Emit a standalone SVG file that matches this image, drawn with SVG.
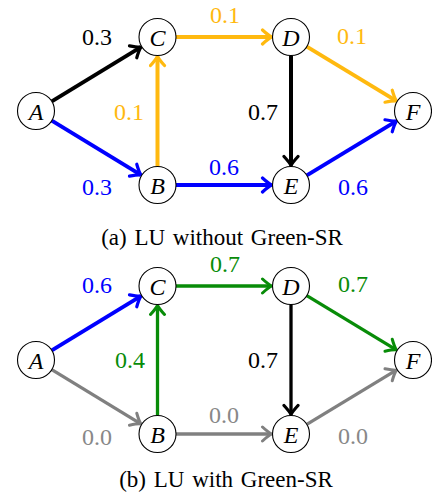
<svg xmlns="http://www.w3.org/2000/svg" width="432" height="493" viewBox="0 0 432 493">
<style>
text{font-family:'Liberation Serif','Times New Roman',serif}
.node circle{fill:#fff;stroke:#000;stroke-width:1.1}
.node text{font-style:italic;font-size:24px;text-anchor:middle}
.lbl{font-size:24px;text-anchor:middle}
.cap{font-size:23px;text-anchor:middle;word-spacing:2px}
.e{fill:none;stroke-linecap:butt}
.t{stroke-width:4}
.b{stroke-width:3.3}
.k{stroke:#000}.o{stroke:#FFB90F}.u{stroke:#0000FF}.g{stroke:#088C08}.y{stroke:#808080}
</style>
<defs>
<marker id="mk" viewBox="-12 -9 16 18" markerWidth="16" markerHeight="18" refX="0" refY="0" orient="auto" markerUnits="userSpaceOnUse"><path d="M-9,-7 Q-3,-1.5 0,0 Q-3,1.5 -9,7" fill="none" stroke="#000" stroke-width="3.2" stroke-linecap="round" stroke-linejoin="round"/></marker>
<marker id="mo" viewBox="-12 -9 16 18" markerWidth="16" markerHeight="18" refX="0" refY="0" orient="auto" markerUnits="userSpaceOnUse"><path d="M-9,-7 Q-3,-1.5 0,0 Q-3,1.5 -9,7" fill="none" stroke="#FFB90F" stroke-width="3.2" stroke-linecap="round" stroke-linejoin="round"/></marker>
<marker id="mu" viewBox="-12 -9 16 18" markerWidth="16" markerHeight="18" refX="0" refY="0" orient="auto" markerUnits="userSpaceOnUse"><path d="M-9,-7 Q-3,-1.5 0,0 Q-3,1.5 -9,7" fill="none" stroke="#0000FF" stroke-width="3.2" stroke-linecap="round" stroke-linejoin="round"/></marker>
<marker id="mg" viewBox="-12 -9 16 18" markerWidth="16" markerHeight="18" refX="0" refY="0" orient="auto" markerUnits="userSpaceOnUse"><path d="M-9,-7 Q-3,-1.5 0,0 Q-3,1.5 -9,7" fill="none" stroke="#088C08" stroke-width="3" stroke-linecap="round" stroke-linejoin="round"/></marker>
<marker id="my" viewBox="-12 -9 16 18" markerWidth="16" markerHeight="18" refX="0" refY="0" orient="auto" markerUnits="userSpaceOnUse"><path d="M-9,-7 Q-3,-1.5 0,0 Q-3,1.5 -9,7" fill="none" stroke="#808080" stroke-width="3" stroke-linecap="round" stroke-linejoin="round"/></marker>
</defs>
<g id="connectors">
<path class="e t k" d="M51.8,101.4 L140.8,47.1" marker-end="url(#mk)"/>
<path class="e t u" d="M51.8,120.6 L140.8,174.9" marker-end="url(#mu)"/>
<path class="e t o" d="M157.5,166.5 L157.5,56.5" marker-end="url(#mo)"/>
<path class="e t o" d="M176,37 L271.5,37" marker-end="url(#mo)"/>
<path class="e t u" d="M176,185 L271.5,185" marker-end="url(#mu)"/>
<path class="e t k" d="M291,55.5 L291,165.5" marker-end="url(#mk)"/>
<path class="e t o" d="M306.8,46.6 L396.3,100.9" marker-end="url(#mo)"/>
<path class="e t u" d="M306.8,175.4 L396.3,121.1" marker-end="url(#mu)"/>
<path class="e t u" d="M51.8,350.4 L140.8,296.1" marker-end="url(#mu)"/>
<path class="e b y" d="M51.8,369.6 L140.8,423.9" marker-end="url(#my)"/>
<path class="e b g" d="M157.5,415.5 L157.5,305.5" marker-end="url(#mg)"/>
<path class="e b g" d="M176,286 L271.5,286" marker-end="url(#mg)"/>
<path class="e b y" d="M176,434 L271.5,434" marker-end="url(#my)"/>
<path class="e b k" d="M291,304.5 L291,414.5" marker-end="url(#mk)"/>
<path class="e b g" d="M306.8,295.6 L396.3,349.9" marker-end="url(#mg)"/>
<path class="e b y" d="M306.8,424.4 L396.3,370.1" marker-end="url(#my)"/>
</g>
<g id="labels">
<text class="lbl" x="97" y="45" fill="#000">0.3</text>
<text class="lbl" x="225" y="23" fill="#FFB90F">0.1</text>
<text class="lbl" x="352" y="44" fill="#FFB90F">0.1</text>
<text class="lbl" x="129" y="120" fill="#FFB90F">0.1</text>
<text class="lbl" x="263" y="120" fill="#000">0.7</text>
<text class="lbl" x="97" y="195" fill="#0000FF">0.3</text>
<text class="lbl" x="224" y="175" fill="#0000FF">0.6</text>
<text class="lbl" x="353" y="195" fill="#0000FF">0.6</text>
<text class="lbl" x="97" y="293" fill="#0000FF">0.6</text>
<text class="lbl" x="225" y="272" fill="#088C08">0.7</text>
<text class="lbl" x="353" y="292" fill="#088C08">0.7</text>
<text class="lbl" x="130" y="368" fill="#088C08">0.4</text>
<text class="lbl" x="263" y="368" fill="#000">0.7</text>
<text class="lbl" x="97" y="445" fill="#888">0.0</text>
<text class="lbl" x="224" y="423" fill="#888">0.0</text>
<text class="lbl" x="353" y="444" fill="#888">0.0</text>
<text class="cap" x="222" y="245">(a) LU without Green-SR</text>
<text class="cap" x="226" y="487">(b) LU with Green-SR</text>
</g>
<g id="nA1" class="node"><circle cx="36" cy="111" r="18.5"/><text x="36" y="119.5">A</text></g>
<g id="nC1" class="node"><circle cx="157.5" cy="37" r="18.5"/><text x="157.5" y="45.5">C</text></g>
<g id="nB1" class="node"><circle cx="157.5" cy="185" r="18.5"/><text x="157.5" y="193.5">B</text></g>
<g id="nD1" class="node"><circle cx="291" cy="37" r="18.5"/><text x="291" y="45.5">D</text></g>
<g id="nE1" class="node"><circle cx="291" cy="185" r="18.5"/><text x="291" y="193.5">E</text></g>
<g id="nF1" class="node"><circle cx="413" cy="111" r="18.5"/><text x="413" y="119.5">F</text></g>
<g id="nA2" class="node"><circle cx="36" cy="360" r="18.5"/><text x="36" y="368.5">A</text></g>
<g id="nC2" class="node"><circle cx="157.5" cy="286" r="18.5"/><text x="157.5" y="294.5">C</text></g>
<g id="nB2" class="node"><circle cx="157.5" cy="434" r="18.5"/><text x="157.5" y="442.5">B</text></g>
<g id="nD2" class="node"><circle cx="291" cy="286" r="18.5"/><text x="291" y="294.5">D</text></g>
<g id="nE2" class="node"><circle cx="291" cy="434" r="18.5"/><text x="291" y="442.5">E</text></g>
<g id="nF2" class="node"><circle cx="413" cy="360" r="18.5"/><text x="413" y="368.5">F</text></g>
</svg>
